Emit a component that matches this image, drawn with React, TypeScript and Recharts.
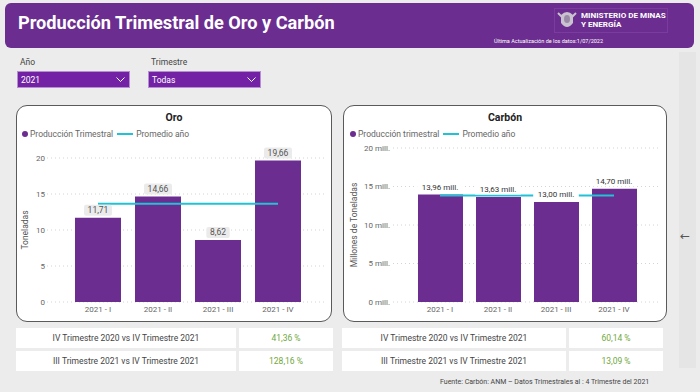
import { Bar, CartesianGrid, ComposedChart, LabelList, Line, XAxis, YAxis } from "recharts";

const QUARTERS = ["2021 - I", "2021 - II", "2021 - III", "2021 - IV"];
const ORO = [11.71, 14.66, 8.62, 19.66];
const ORO_AVG = 13.66;
const CARBON = [13.96, 13.63, 13.0, 14.7]; // millones de toneladas
const CARBON_AVG = 13.82;
const Y_TICKS = [0, 5, 10, 15, 20];
const ORO_COMPARE = [
  ["IV Trimestre 2020 vs IV Trimestre 2021", "41,36 %"],
  ["III Trimestre 2021 vs IV Trimestre 2021", "128,16 %"],
];
const CARBON_COMPARE = [
  ["IV Trimestre 2020 vs IV Trimestre 2021", "60,14 %"],
  ["III Trimestre 2021 vs IV Trimestre 2021", "13,09 %"],
];

const FONT = "Roboto, 'Noto Sans', sans-serif";
const PURPLE = "#6b2d8f";
const CYAN = "#20c2d6";
const TICK = { fontSize: 8, fill: "#666", fontFamily: FONT };

const fmt = (v: number) => v.toFixed(2).replace(".", ",");

function OroLabel(p: any) {
  const x = p.x ?? p.viewBox?.x;
  const y = p.y ?? p.viewBox?.y;
  const txt = fmt(Number(p.value));
  const w = txt.length * 4.6 + 5;
  return (
    <g>
      <rect x={x - w / 2} y={y - 13} width={w} height={11} rx={2} fill="#ebebeb" />
      <text x={x} y={y - 7.5} textAnchor="middle" dominantBaseline="central" fontSize={8.5} fill="#555" fontFamily={FONT}>
        {txt}
      </text>
    </g>
  );
}

function CarbonLabel(p: any) {
  const x = p.x ?? p.viewBox?.x;
  const y = p.y ?? p.viewBox?.y;
  const txt = `${fmt(Number(p.value))} mill.`;
  const w = txt.length * 3.6 + 6;
  return (
    <g>
      <rect x={x - w / 2} y={y - 12.5} width={w} height={10} fill="#fff" />
      <text x={x} y={y - 7.5} textAnchor="middle" dominantBaseline="central" fontSize={8} fill="#333" fontFamily={FONT}>
        {txt}
      </text>
    </g>
  );
}

function LegendRow({ left, top, first }: { left: number; top: number; first: string }) {
  return (
    <div style={{ position: "absolute", left, top, display: "flex", alignItems: "center", fontSize: 8.5, color: "#666", fontFamily: FONT, lineHeight: "12px", whiteSpace: "nowrap" }}>
      <span style={{ width: 6, height: 6, borderRadius: 3, background: PURPLE, marginRight: 2 }} />
      <span>{first}</span>
      <span style={{ width: 16, height: 2, background: CYAN, margin: "0 3px 0 4px" }} />
      <span>Promedio año</span>
    </div>
  );
}

function Card({ left, width, title }: { left: number; width: number; title: string }) {
  return (
    <div style={{ position: "absolute", left, top: 105, width, height: 217, boxSizing: "border-box", background: "#fff", border: "1px solid #5a5a5a", borderRadius: 11 }}>
      <div style={{ position: "absolute", left: 0, right: 0, top: 5, textAlign: "center", fontWeight: 700, fontSize: 10.5, color: "#222", fontFamily: FONT }}>
        {title}
      </div>
    </div>
  );
}

function CompareTable({ left, leftW, rightW, rows }: { left: number; leftW: number; rightW: number; rows: string[][] }) {
  return (
    <>
      {rows.map((r, i) => (
        <div key={i} style={{ position: "absolute", left, top: 328 + i * 23, display: "flex", gap: 3, fontFamily: FONT, fontSize: 8.5 }}>
          <div style={{ width: leftW, height: 20, background: "#fff", color: "#444", display: "flex", alignItems: "center", justifyContent: "center" }}>{r[0]}</div>
          <div style={{ width: rightW, height: 20, background: "#fff", color: "#6fa83c", display: "flex", alignItems: "center", justifyContent: "center" }}>{r[1]}</div>
        </div>
      ))}
    </>
  );
}

function Dropdown({ left, label, value }: { left: number; label: string; value: string }) {
  return (
    <>
      <div style={{ position: "absolute", left: left + 3, top: 57, fontSize: 8.5, color: "#444", fontFamily: FONT }}>{label}</div>
      <div style={{ position: "absolute", left, top: 71, width: 113, height: 17, boxSizing: "border-box", background: "#7322a5", border: "1px solid #b58fd0", color: "#fff", fontSize: 8.5, fontFamily: FONT, display: "flex", alignItems: "center", justifyContent: "space-between", padding: "0 4px 0 3px" }}>
        <span>{value}</span>
        <svg width={9} height={6}>
          <polyline points="0.5,0.5 4.5,4.5 8.5,0.5" fill="none" stroke="#fff" strokeWidth={1} />
        </svg>
      </div>
    </>
  );
}

export default function App() {
  const oroData = QUARTERS.map((q, i) => ({ q, v: ORO[i], avg: ORO_AVG }));
  const carbonData = QUARTERS.map((q, i) => ({ q, v: CARBON[i], avg: CARBON_AVG }));

  return (
    <div style={{ position: "absolute", left: 0, top: 0, width: 700, height: 392, background: "#ececec", overflow: "hidden", fontFamily: FONT }}>
      {/* cabecera */}
      <div style={{ position: "absolute", left: 5, top: 3, width: 689, height: 45, background: PURPLE, borderRadius: 6 }} />
      <div style={{ position: "absolute", left: 18, top: 12, color: "#fff", fontWeight: 700, fontSize: 18.2, fontFamily: FONT, whiteSpace: "nowrap" }}>
        Producción Trimestral de Oro y Carbón
      </div>
      <div style={{ position: "absolute", left: 554, top: 8, width: 114, height: 25, border: "1px solid #7a3d9e", boxSizing: "border-box" }} />
      <svg style={{ position: "absolute", left: 557, top: 9 }} width={20} height={23}>
        <path d="M4 6 Q10 0 16 6 L16 14 Q10 22 4 14 Z" fill="#c9c2cf" />
        <ellipse cx={10} cy={10} rx={3} ry={4} fill="#9a8aa8" />
        <path d="M1 4 L5 8 M19 4 L15 8" stroke="#c9c2cf" strokeWidth={2} />
      </svg>
      <div style={{ position: "absolute", left: 581, top: 11, color: "#fff", fontWeight: 700, fontSize: 8.1, lineHeight: "9px", fontFamily: FONT, whiteSpace: "nowrap" }}>
        MINISTERIO DE MINAS
        <br />Y ENERGÍA
      </div>
      <div style={{ position: "absolute", left: 494, top: 38, color: "#fff", fontSize: 5.5, fontFamily: FONT, whiteSpace: "nowrap" }}>
        Última Actualización de los datos:1/07/2022
      </div>

      <Dropdown left={17} label="Año" value="2021" />
      <Dropdown left={148} label="Trimestre" value="Todas" />

      <div style={{ position: "absolute", left: 679, top: 52, width: 17, height: 316, background: "#e5e5e5" }} />
      <div style={{ position: "absolute", left: 680, top: 229, color: "#555", fontSize: 12, fontFamily: "'DejaVu Sans'" }}>←</div>

      <Card left={16} width={316} title="Oro" />
      <Card left={343} width={324} title="Carbón" />
      <LegendRow left={22} top={128} first="Producción Trimestral" />
      <LegendRow left={350} top={128} first="Producción trimestral" />

      <div style={{ position: "absolute", left: 16, top: 105 }}>
        <ComposedChart width={316} height={217} data={oroData} margin={{ top: 53, right: 5, bottom: 0, left: 0 }}>
          <CartesianGrid vertical={false} stroke="#d4d4d4" strokeDasharray="1 3" />
          <XAxis dataKey="q" height={20} padding={{ left: 21, right: 19 }} tickLine={false} axisLine={false} tickSize={0} tickMargin={4} tick={TICK} interval={0} />
          <YAxis
            width={31}
            domain={[0, 20]}
            ticks={Y_TICKS}
            tickLine={false}
            axisLine={false}
            tickSize={0}
            tickMargin={2}
            tick={TICK}
            label={{ value: "Toneladas", angle: -90, position: "insideLeft", offset: 9, style: { textAnchor: "middle", fontSize: 8.5, fill: "#555", fontFamily: FONT } }}
          />
          <Bar dataKey="v" fill={PURPLE} barSize={46} isAnimationActive={false} />
          <Line dataKey="avg" stroke={CYAN} strokeWidth={2} dot={false} activeDot={false} isAnimationActive={false} />
          <Line dataKey="v" stroke="none" dot={false} activeDot={false} isAnimationActive={false}>
            <LabelList dataKey="v" content={(p: any) => <OroLabel {...p} />} />
          </Line>
        </ComposedChart>
      </div>

      <div style={{ position: "absolute", left: 343, top: 105 }}>
        <ComposedChart width={324} height={217} data={carbonData} margin={{ top: 43, right: 7, bottom: 0, left: 0 }}>
          <CartesianGrid vertical={false} stroke="#d4d4d4" strokeDasharray="1 3" />
          <XAxis dataKey="q" height={20} padding={{ left: 18, right: 17 }} tickLine={false} axisLine={false} tickSize={0} tickMargin={4} tick={TICK} interval={0} />
          <YAxis
            width={50}
            domain={[0, 20]}
            ticks={Y_TICKS}
            tickFormatter={(v: number) => `${v} mill.`}
            tickLine={false}
            axisLine={false}
            tickSize={0}
            tickMargin={3}
            tick={TICK}
            label={{ value: "Millones de Toneladas", angle: -90, position: "insideLeft", offset: 11, style: { textAnchor: "middle", fontSize: 8.5, fill: "#555", fontFamily: FONT } }}
          />
          <Bar dataKey="v" fill={PURPLE} barSize={45} isAnimationActive={false} />
          <Line dataKey="avg" stroke={CYAN} strokeWidth={2} dot={false} activeDot={false} isAnimationActive={false} />
          <Line dataKey="v" stroke="none" dot={false} activeDot={false} isAnimationActive={false}>
            <LabelList dataKey="v" content={(p: any) => <CarbonLabel {...p} />} />
          </Line>
        </ComposedChart>
      </div>

      <CompareTable left={16} leftW={220} rightW={94} rows={ORO_COMPARE} />
      <CompareTable left={342} leftW={224} rightW={94} rows={CARBON_COMPARE} />

      <div style={{ position: "absolute", left: 440, top: 378, fontSize: 7, color: "#444", fontFamily: FONT, whiteSpace: "nowrap" }}>
        Fuente: Carbón: ANM – Datos Trimestrales al : 4 Trimestre del 2021
      </div>
    </div>
  );
}
